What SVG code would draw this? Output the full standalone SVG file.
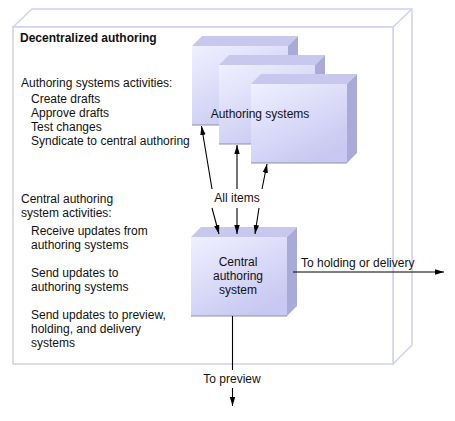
<svg xmlns="http://www.w3.org/2000/svg" width="455" height="421" viewBox="0 0 455 421">
<style>
text{font-family:"Liberation Sans",Arial,sans-serif;font-size:12px;fill:#111}
.b{font-weight:bold}
.m{text-anchor:middle}
.frame{fill:#fff;stroke:#d0d0f6;stroke-width:1.5}
.front{fill:url(#g);stroke:none}
.top{fill:#c8c8ee}
.side{fill:#aaaad8}
.edge{stroke:#9090ac;stroke-width:1.2}
.c{stroke:#000;stroke-width:1.1;fill:none;marker-end:url(#a)}
</style>
<defs>
<linearGradient id="g" x1="0" y1="0" x2="0.6" y2="1">
<stop offset="0" stop-color="#f0f0ff"/>
<stop offset="1" stop-color="#c8c8f2"/>
</linearGradient>
<marker id="a" viewBox="0 0 10 10" refX="10" refY="5" markerWidth="9" markerHeight="9" markerUnits="userSpaceOnUse" orient="auto">
<path d="M0,2 L10,5 L0,8 z" fill="#000"/>
</marker>
<g id="box">
<path class="top" d="M0,0 L10,-10 L106,-10 L96,0 z"/>
<path class="side" d="M96,0 L106,-10 L106,69 L96,79 z"/>
<rect class="front" x="0" y="0" width="96" height="79"/>
<line class="edge" x1="0" y1="79" x2="96" y2="79"/>
</g>
</defs>
<g id="container">
<path class="frame" d="M13,27 L32,9 L412,9 L412,345 L393,364 L393,27 z"/>
<line class="frame" x1="393" y1="27" x2="412" y2="9"/>
<rect class="frame" x="13" y="27" width="380" height="337"/>
<text class="b" x="20" y="42">Decentralized authoring</text>
<text x="21" y="87">Authoring systems activities:</text>
<text x="31" y="103">Create drafts</text>
<text x="31" y="117">Approve drafts</text>
<text x="31" y="131">Test changes</text>
<text x="31" y="145">Syndicate to central authoring</text>
<text x="21" y="203">Central authoring</text>
<text x="21" y="217">system activities:</text>
<text x="31" y="235">Receive updates from</text>
<text x="31" y="249">authoring systems</text>
<text x="31" y="277">Send updates to</text>
<text x="31" y="291">authoring systems</text>
<text x="31" y="319">Send updates to preview,</text>
<text x="31" y="333">holding, and delivery</text>
<text x="31" y="347">systems</text>
</g>
<g id="authoring-systems">
<use href="#box" x="192" y="46"/>
<use href="#box" x="219" y="65"/>
<use href="#box" x="251" y="84"/>
<text class="m" x="260" y="118">Authoring systems</text>
</g>
<g id="central">
<use href="#box" x="191" y="237"/>
<text class="m" x="238" y="266">Central</text>
<text class="m" x="238" y="280">authoring</text>
<text class="m" x="238" y="294">system</text>
</g>
<g id="connectors">
<line class="c" x1="212" y1="189" x2="201.5" y2="126"/>
<line class="c" x1="237" y1="189" x2="237" y2="145"/>
<line class="c" x1="262" y1="189" x2="267" y2="164"/>
<line class="c" x1="212" y1="208" x2="219" y2="234"/>
<line class="c" x1="237" y1="208" x2="237" y2="234"/>
<line class="c" x1="259" y1="208" x2="255" y2="234"/>
<line class="c" x1="293" y1="272" x2="444" y2="272"/>
<line x1="232.5" y1="316" x2="232.5" y2="370" stroke="#000" stroke-width="1.1"/>
<line class="c" x1="232.5" y1="388" x2="232.5" y2="406"/>
<text class="m" x="237" y="202">All items</text>
<text x="301" y="267">To holding or delivery</text>
<text class="m" x="232" y="383">To preview</text>
</g>
</svg>
